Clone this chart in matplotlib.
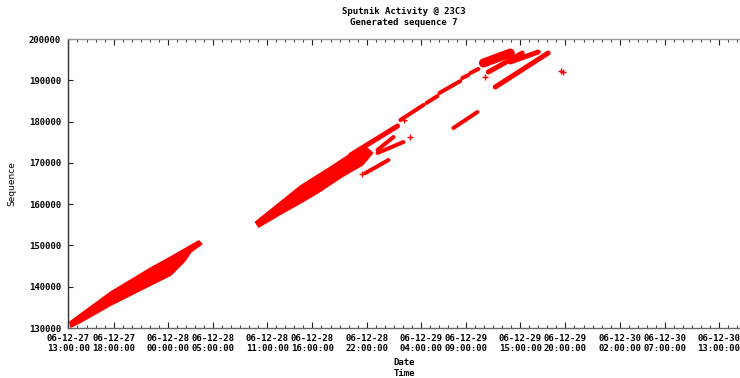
import matplotlib
matplotlib.use("Agg")
import matplotlib.pyplot as plt
import matplotlib.dates as mdates
import pandas as pd

# ---- data ----
# outlines of the two big dense clouds of points (time, sequence)
cloud1_time = ["2006-12-27 13:10", "2006-12-27 17:42", "2006-12-27 22:07", "2006-12-28 00:20",
               "2006-12-28 03:25", "2006-12-28 03:45", "2006-12-28 02:32", "2006-12-28 01:52",
               "2006-12-28 00:20", "2006-12-27 22:07", "2006-12-27 17:42", "2006-12-27 14:23",
               "2006-12-27 13:17"]
cloud1_seq = [131450, 138720, 144530, 147200, 151070, 150350, 148410, 146230,
              142840, 140420, 135570, 131450, 130240]
cloud2_time = ["2006-12-28 09:43", "2006-12-28 11:56", "2006-12-28 14:41", "2006-12-28 18:01",
               "2006-12-28 20:13", "2006-12-28 22:02", "2006-12-28 22:39", "2006-12-28 21:32",
               "2006-12-28 19:23", "2006-12-28 16:54", "2006-12-28 14:41", "2006-12-28 12:29",
               "2006-12-28 10:03"]
cloud2_seq = [155670, 159550, 164390, 168990, 172140, 173600, 172390, 169480,
              166810, 163180, 160280, 157610, 154460]

# thinner streaks of points: start / end (time, sequence)
band_start_time = ["2006-12-28 20:13", "2006-12-28 23:12", "2006-12-28 23:12", "2006-12-28 21:52",
                   "2006-12-29 01:44", "2006-12-29 04:37", "2006-12-29 06:03", "2006-12-29 08:35",
                   "2006-12-29 09:29", "2006-12-29 07:36", "2006-12-29 10:55", "2006-12-29 11:28",
                   "2006-12-29 13:54", "2006-12-29 12:14"]
band_end_time = ["2006-12-29 01:25", "2006-12-29 00:58", "2006-12-29 02:04", "2006-12-29 00:25",
                 "2006-12-29 04:17", "2006-12-29 05:50", "2006-12-29 08:22", "2006-12-29 09:15",
                 "2006-12-29 10:22", "2006-12-29 10:15", "2006-12-29 13:54", "2006-12-29 15:13",
                 "2006-12-29 16:59", "2006-12-29 18:05"]
band_start_seq = [171900, 173110, 172390, 167540,
                  180380, 184500, 186920, 190550, 191760, 178440, 194180, 192000,
                  194430, 188370]
band_end_seq = [178920, 176260, 175050, 170690,
                184010, 186190, 189820, 191280, 192730, 182310, 196600, 196600,
                196850, 196600]
band_width_px = [5, 4, 4, 4, 4, 4, 4, 4, 4, 4, 9, 5, 5, 5]

# isolated points
point_time = ["2006-12-29 02:51", "2006-12-28 21:26", "2006-12-29 02:11",
              "2006-12-29 11:08", "2006-12-29 19:33", "2006-12-29 19:42"]
point_seq = [176260, 167300, 180380, 190790, 192240, 192000]

# axis ticks
tick_times = ["2006-12-27 13:00", "2006-12-27 18:00", "2006-12-28 00:00", "2006-12-28 05:00",
              "2006-12-28 11:00", "2006-12-28 16:00", "2006-12-28 22:00", "2006-12-29 04:00",
              "2006-12-29 09:00", "2006-12-29 15:00", "2006-12-29 20:00", "2006-12-30 02:00",
              "2006-12-30 07:00", "2006-12-30 13:00"]
tick_labels = ["06-12-27\n13:00:00", "06-12-27\n18:00:00", "06-12-28\n00:00:00", "06-12-28\n05:00:00",
               "06-12-28\n11:00:00", "06-12-28\n16:00:00", "06-12-28\n22:00:00", "06-12-29\n04:00:00",
               "06-12-29\n09:00:00", "06-12-29\n15:00:00", "06-12-29\n20:00:00", "06-12-30\n02:00:00",
               "06-12-30\n07:00:00", "06-12-30\n13:00:00"]
y_ticks = [130000, 140000, 150000, 160000, 170000, 180000, 190000, 200000]
x_range = ["2006-12-27 12:57", "2006-12-30 15:19"]

# ---- figure ----
W, H, DPI = 740, 378, 100
fig = plt.figure(figsize=(W / DPI, H / DPI), dpi=DPI)
ax = fig.add_axes([68 / W, (H - 328) / H, (W - 68) / W, (328 - 39) / H])

red = "#ff0000"
px = 72.0 / DPI
for ct, cs in ((cloud1_time, cloud1_seq), (cloud2_time, cloud2_seq)):
    ax.fill(mdates.date2num(pd.to_datetime(ct)), cs, facecolor=red, edgecolor=red,
            lw=1.2, joinstyle="round", zorder=2)
for t0, t1, s0, s1, w in zip(band_start_time, band_end_time, band_start_seq, band_end_seq, band_width_px):
    ax.plot(mdates.date2num(pd.to_datetime([t0, t1])), [s0, s1], color=red, lw=w * px,
            solid_capstyle="round", zorder=2)
ax.plot(mdates.date2num(pd.to_datetime(point_time)), point_seq, ls="none", marker="+",
        ms=5, mew=1, color=red)

ax.set_xlim(mdates.date2num(pd.to_datetime(x_range[0])), mdates.date2num(pd.to_datetime(x_range[1])))
ax.set_ylim(130000, 200000)

mono = {"family": "DejaVu Sans Mono", "weight": "bold", "size": 6.5}
ax.set_xticks(mdates.date2num(pd.to_datetime(tick_times)))
ax.set_xticklabels(tick_labels, fontdict=mono, linespacing=1.25)
ax.xaxis.set_minor_locator(mdates.HourLocator())
ax.set_yticks(y_ticks)
ax.set_yticklabels([str(v) for v in y_ticks], fontdict=mono)

ax.tick_params(axis="x", which="major", direction="in", length=4, width=0.8,
               top=True, bottom=True, pad=4, colors="#222222")
ax.tick_params(axis="x", which="minor", direction="in", length=2, width=0.8,
               top=True, bottom=True, colors="#444444")
ax.tick_params(axis="y", which="major", direction="in", length=3.5, width=0.8,
               left=True, right=False, pad=5, colors="#222222")
for lab in ax.get_xticklabels() + ax.get_yticklabels():
    lab.set_color("black")

ax.spines["right"].set_visible(False)
ax.spines["top"].set_color("#9a9a9a")
ax.spines["bottom"].set_color("#666666")
ax.spines["left"].set_color("#333333")
for s in ("top", "bottom", "left"):
    ax.spines[s].set_linewidth(1.0)

ax.set_title("Sputnik Activity @ 23C3\nGenerated sequence 7", fontdict=mono,
             linespacing=1.25, pad=10)
ax.set_xlabel("Date\nTime", fontdict=mono, linespacing=1.25)
ax.xaxis.set_label_coords(0.5, -0.105)
ax.set_ylabel("Sequence", family="DejaVu Sans", size=6.5)
ax.yaxis.set_label_coords(-0.077, 0.5)

fig.savefig("out.png", dpi=DPI)
